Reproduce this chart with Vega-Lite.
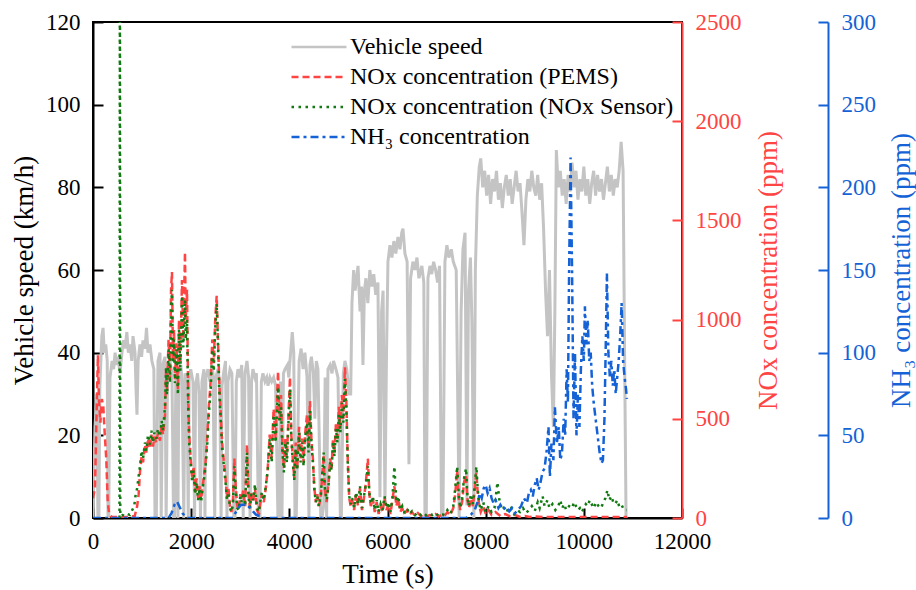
{
"$schema": "https://vega.github.io/schema/vega-lite/v6.json",
"width": 589,
"height": 496,
"autosize": {"type": "none"},
"padding": {"left": 93, "top": 22, "right": 234, "bottom": 72},
"config": {
  "font": "Liberation Serif",
  "view": {"stroke": "#000000", "strokeWidth": 2},
  "axis": {"grid": false, "ticks": true, "labelFont": "Liberation Serif", "titleFont": "Liberation Serif", "labelFontSize": 23, "titleFontSize": 27, "titleFontWeight": "normal", "labelFlush": false, "labelOverlap": false, "domainWidth": 2, "tickWidth": 2, "tickSize": -10, "labelPadding": 23, "format": "d"},
  "legend": {"orient": "none", "legendX": 214, "legendY": 13, "title": null, "padding": 0, "labelFont": "Liberation Serif", "labelFontSize": 24, "labelColor": "#000000", "labelOffset": 19, "rowPadding": 6, "symbolType": "M-5,0L5,0", "symbolSize": 121, "symbolStrokeWidth": 2.5, "labelLimit": 400}
},
"datasets": {
"speed": [
{"t":0,"v":0},{"t":40,"v":22},{"t":80,"v":30},{"t":100,"v":0},{"t":120,"v":0},{"t":140,"v":32},{"t":180,"v":44},{"t":205,"v":46},{"t":230,"v":40},{"t":260,"v":42},{"t":290,"v":38},{"t":306,"v":0},{"t":320,"v":0},{"t":346,"v":34},{"t":390,"v":38},{"t":420,"v":36},{"t":450,"v":40},{"t":480,"v":37},{"t":510,"v":39},{"t":550,"v":35},{"t":590,"v":40},{"t":620,"v":43},{"t":652,"v":41},{"t":690,"v":45},{"t":720,"v":40},{"t":754,"v":42},{"t":790,"v":38},{"t":815,"v":44},{"t":856,"v":40},{"t":880,"v":30},{"t":896,"v":25},{"t":920,"v":38},{"t":957,"v":42},{"t":990,"v":39},{"t":1019,"v":43},{"t":1059,"v":41},{"t":1090,"v":46},{"t":1120,"v":40},{"t":1161,"v":42},{"t":1200,"v":38},{"t":1240,"v":36},{"t":1263,"v":0},{"t":1290,"v":0},{"t":1324,"v":38},{"t":1365,"v":40},{"t":1390,"v":0},{"t":1420,"v":37},{"t":1467,"v":39},{"t":1490,"v":0},{"t":1520,"v":36},
{"t":1568,"v":38},{"t":1609,"v":35},{"t":1640,"v":0},{"t":1660,"v":0},{"t":1690,"v":36},{"t":1730,"v":0},{"t":1750,"v":34},{"t":1790,"v":37},{"t":1813,"v":33},{"t":1850,"v":0},{"t":1874,"v":35},{"t":1915,"v":33},{"t":1940,"v":0},{"t":1960,"v":34},{"t":1990,"v":36},{"t":2037,"v":33},{"t":2070,"v":0},{"t":2090,"v":32},{"t":2130,"v":35},{"t":2160,"v":30},{"t":2190,"v":0},{"t":2220,"v":33},{"t":2260,"v":36},{"t":2281,"v":0},{"t":2300,"v":34},{"t":2343,"v":36},{"t":2383,"v":33},{"t":2420,"v":37},{"t":2444,"v":35},{"t":2480,"v":0},{"t":2500,"v":34},{"t":2546,"v":36},{"t":2580,"v":33},{"t":2610,"v":0},{"t":2628,"v":32},{"t":2660,"v":35},{"t":2700,"v":38},{"t":2730,"v":0},{"t":2750,"v":33},{"t":2791,"v":36},
{"t":2830,"v":35},{"t":2870,"v":0},{"t":2893,"v":0},{"t":2920,"v":33},{"t":2954,"v":36},{"t":2994,"v":34},{"t":3030,"v":37},{"t":3060,"v":0},{"t":3096,"v":35},{"t":3137,"v":38},{"t":3170,"v":34},{"t":3200,"v":0},{"t":3230,"v":33},{"t":3259,"v":36},{"t":3300,"v":34},{"t":3330,"v":35},{"t":3370,"v":0},{"t":3402,"v":0},{"t":3430,"v":33},{"t":3463,"v":35},{"t":3504,"v":33},{"t":3540,"v":34},{"t":3565,"v":32},{"t":3605,"v":34},{"t":3640,"v":33},{"t":3680,"v":34},{"t":3720,"v":32},{"t":3768,"v":0},{"t":3790,"v":0},{"t":3820,"v":33},{"t":3850,"v":0},{"t":3880,"v":35},{"t":3911,"v":36},{"t":3960,"v":37},{"t":3990,"v":34},{"t":4013,"v":38},{"t":4060,"v":45},{"t":4090,"v":40},{"t":4115,"v":0},{"t":4140,"v":0},{"t":4176,"v":22},{"t":4200,"v":38},{"t":4240,"v":41},{"t":4280,"v":36},{"t":4318,"v":40},{"t":4360,"v":34},{"t":4400,"v":0},{"t":4420,"v":37},{"t":4450,"v":39},{"t":4490,"v":35},{"t":4520,"v":24},{"t":4550,"v":38},{"t":4583,"v":36},{"t":4640,"v":0},{"t":4665,"v":0},{"t":4700,"v":3},{"t":4730,"v":34},{"t":4760,"v":0},{"t":4787,"v":36},{"t":4828,"v":37},{"t":4870,"v":35},{"t":4900,"v":38},{"t":4950,"v":36},{"t":4991,"v":34},{"t":5040,"v":0},{"t":5060,"v":0},{"t":5100,"v":35},{"t":5133,"v":38},{"t":5170,"v":36},{"t":5220,"v":30},
{"t":5250,"v":30},{"t":5276,"v":52},{"t":5310,"v":60},{"t":5340,"v":55},{"t":5370,"v":58},{"t":5400,"v":61},{"t":5440,"v":50},{"t":5470,"v":56},{"t":5500,"v":37},{"t":5530,"v":55},{"t":5560,"v":58},{"t":5600,"v":52},{"t":5640,"v":60},{"t":5680,"v":56},{"t":5720,"v":59},{"t":5760,"v":54},{"t":5805,"v":57},{"t":5846,"v":5},{"t":5880,"v":50},{"t":5910,"v":55},{"t":5948,"v":3},{"t":5980,"v":40},{"t":6009,"v":62},{"t":6050,"v":66},{"t":6090,"v":63},{"t":6130,"v":67},{"t":6170,"v":64},{"t":6213,"v":68},{"t":6254,"v":65},{"t":6290,"v":69},{"t":6315,"v":70},{"t":6355,"v":64},{"t":6400,"v":62},{"t":6437,"v":13},{"t":6470,"v":58},{"t":6518,"v":62},{"t":6560,"v":60},{"t":6600,"v":63},{"t":6640,"v":58},{"t":6700,"v":61},{"t":6740,"v":57},{"t":6763,"v":0},{"t":6790,"v":0},{"t":6824,"v":58},{"t":6865,"v":61},{"t":6900,"v":59},{"t":6940,"v":62},{"t":6980,"v":60},{"t":7020,"v":57},{"t":7060,"v":61},{"t":7100,"v":0},{"t":7130,"v":0},{"t":7170,"v":62},{"t":7210,"v":66},{"t":7250,"v":63},{"t":7300,"v":65},{"t":7340,"v":62},{"t":7400,"v":60},{"t":7460,"v":0},{"t":7500,"v":50},{"t":7537,"v":65},{"t":7580,"v":69},{"t":7618,"v":3},{"t":7650,"v":55},{"t":7690,"v":63},{"t":7720,"v":47},{"t":7760,"v":0},{"t":7790,"v":60},{"t":7830,"v":78},{"t":7870,"v":85},
{"t":7900,"v":87},{"t":7940,"v":80},{"t":7980,"v":84},{"t":8020,"v":78},{"t":8060,"v":83},{"t":8100,"v":76},{"t":8140,"v":82},{"t":8180,"v":79},{"t":8220,"v":84},{"t":8260,"v":77},{"t":8300,"v":81},{"t":8340,"v":75},{"t":8380,"v":80},{"t":8420,"v":83},{"t":8460,"v":78},{"t":8500,"v":82},{"t":8540,"v":76},{"t":8580,"v":80},{"t":8620,"v":84},{"t":8660,"v":79},{"t":8700,"v":81},{"t":8740,"v":74},{"t":8780,"v":66},{"t":8820,"v":77},{"t":8860,"v":82},{"t":8900,"v":79},{"t":8940,"v":84},{"t":8980,"v":80},{"t":9020,"v":78},{"t":9060,"v":83},{"t":9100,"v":77},{"t":9140,"v":81},{"t":9180,"v":70},{"t":9220,"v":55},{"t":9260,"v":44},{"t":9300,"v":60},{"t":9340,"v":35},{"t":9380,"v":22},{"t":9410,"v":50},{"t":9440,"v":89},{"t":9480,"v":80},{"t":9520,"v":84},{"t":9560,"v":78},{"t":9600,"v":82},{"t":9640,"v":76},{"t":9680,"v":83},{"t":9720,"v":79},{"t":9760,"v":86},{"t":9800,"v":80},{"t":9840,"v":84},{"t":9880,"v":77},{"t":9920,"v":82},{"t":9960,"v":79},{"t":10000,"v":85},{"t":10040,"v":78},{"t":10080,"v":82},{"t":10120,"v":76},{"t":10160,"v":81},{"t":10200,"v":84},{"t":10240,"v":78},{"t":10280,"v":83},{"t":10320,"v":79},{"t":10360,"v":82},{"t":10400,"v":77},{"t":10440,"v":81},{"t":10480,"v":85},{"t":10520,"v":79},{"t":10560,"v":83},{"t":10600,"v":78},{"t":10640,"v":82},{"t":10680,"v":80},{"t":10720,"v":84},{"t":10760,"v":91},{"t":10800,"v":84},{"t":10830,"v":40},{"t":10860,"v":0},{"t":10880,"v":0}
],
"pems": [
{"t":0,"v":100},{"t":40,"v":150},{"t":70,"v":500},{"t":100,"v":820},{"t":120,"v":600},{"t":150,"v":480},{"t":180,"v":600},{"t":210,"v":560},{"t":240,"v":420},{"t":270,"v":300},{"t":300,"v":80},{"t":330,"v":20},{"t":360,"v":10},{"t":400,"v":5},{"t":500,"v":5},{"t":700,"v":5},{"t":850,"v":10},
{"t":900,"v":60},{"t":930,"v":120},{"t":957,"v":230},{"t":990,"v":310},{"t":1019,"v":280},{"t":1059,"v":370},{"t":1090,"v":330},{"t":1120,"v":400},{"t":1161,"v":350},{"t":1190,"v":420},{"t":1222,"v":360},{"t":1250,"v":410},{"t":1290,"v":380},{"t":1324,"v":430},{"t":1365,"v":390},{"t":1400,"v":470},{"t":1426,"v":420},{"t":1467,"v":520},{"t":1490,"v":760},{"t":1507,"v":640},{"t":1540,"v":900},{"t":1568,"v":700},{"t":1590,"v":1150},{"t":1609,"v":1240},{"t":1630,"v":800},{"t":1650,"v":950},{"t":1670,"v":700},{"t":1700,"v":880},{"t":1730,"v":650},{"t":1752,"v":1000},{"t":1780,"v":780},{"t":1813,"v":1200},{"t":1840,"v":900},{"t":1874,"v":1340},{"t":1890,"v":1000},{"t":1915,"v":1150},{"t":1940,"v":600},{"t":1960,"v":420},{"t":1990,"v":300},{"t":2020,"v":200},{"t":2050,"v":260},{"t":2080,"v":130},{"t":2110,"v":200},{"t":2140,"v":100},{"t":2170,"v":160},{"t":2200,"v":90},{"t":2240,"v":170},{"t":2270,"v":230},{"t":2300,"v":300},{"t":2330,"v":420},{"t":2360,"v":560},{"t":2400,"v":700},{"t":2430,"v":900},{"t":2460,"v":780},{"t":2490,"v":1000},{"t":2520,"v":1120},{"t":2546,"v":900},{"t":2570,"v":700},{"t":2600,"v":540},{"t":2630,"v":380},{"t":2660,"v":300},{"t":2700,"v":200},{"t":2730,"v":100},{"t":2760,"v":150},{"t":2790,"v":60},{"t":2820,"v":30},{"t":2850,"v":80},{"t":2880,"v":300},{"t":2910,"v":150},{"t":2940,"v":60},{"t":2970,"v":40},{"t":3000,"v":120},{"t":3030,"v":90},{"t":3060,"v":140},{"t":3100,"v":60},{"t":3137,"v":370},{"t":3170,"v":110},{"t":3200,"v":50},{"t":3220,"v":130},{"t":3260,"v":80},{"t":3300,"v":150},{"t":3340,"v":40},{"t":3380,"v":20},
{"t":3400,"v":60},{"t":3440,"v":120},{"t":3480,"v":80},{"t":3520,"v":150},{"t":3560,"v":250},{"t":3600,"v":420},{"t":3640,"v":300},{"t":3680,"v":550},{"t":3720,"v":400},{"t":3770,"v":740},{"t":3800,"v":500},{"t":3830,"v":620},{"t":3860,"v":350},{"t":3890,"v":250},{"t":3920,"v":400},{"t":3950,"v":300},{"t":3980,"v":500},{"t":4013,"v":710},{"t":4040,"v":420},{"t":4070,"v":300},{"t":4100,"v":200},{"t":4130,"v":380},{"t":4160,"v":250},{"t":4200,"v":460},{"t":4230,"v":300},{"t":4260,"v":400},{"t":4290,"v":280},{"t":4320,"v":420},{"t":4360,"v":520},{"t":4390,"v":350},{"t":4420,"v":590},{"t":4450,"v":400},{"t":4480,"v":300},{"t":4510,"v":150},{"t":4540,"v":80},{"t":4570,"v":120},{"t":4600,"v":60},{"t":4640,"v":100},{"t":4680,"v":250},{"t":4700,"v":320},{"t":4720,"v":150},{"t":4760,"v":80},{"t":4800,"v":180},{"t":4830,"v":300},{"t":4860,"v":250},{"t":4890,"v":400},{"t":4920,"v":330},{"t":4950,"v":480},{"t":4980,"v":400},{"t":5010,"v":560},{"t":5040,"v":450},{"t":5070,"v":620},{"t":5100,"v":500},{"t":5133,"v":760},{"t":5160,"v":600},{"t":5190,"v":300},{"t":5220,"v":100},{"t":5250,"v":60},{"t":5280,"v":90},
{"t":5320,"v":40},{"t":5360,"v":120},{"t":5400,"v":60},{"t":5440,"v":150},{"t":5480,"v":40},{"t":5520,"v":100},{"t":5560,"v":180},{"t":5600,"v":300},{"t":5630,"v":120},{"t":5660,"v":60},{"t":5700,"v":100},{"t":5740,"v":30},{"t":5780,"v":80},{"t":5820,"v":20},{"t":5860,"v":60},{"t":5900,"v":30},{"t":5940,"v":100},{"t":5980,"v":40},{"t":6020,"v":70},{"t":6060,"v":20},{"t":6100,"v":90},{"t":6140,"v":160},{"t":6180,"v":60},{"t":6220,"v":100},{"t":6260,"v":30},{"t":6300,"v":50},{"t":6340,"v":20},{"t":6400,"v":40},{"t":6440,"v":15},{"t":6500,"v":30},{"t":6560,"v":10},{"t":6620,"v":25},{"t":6680,"v":10},{"t":6740,"v":20},{"t":6800,"v":8},{"t":6860,"v":15},{"t":6920,"v":10},{"t":6980,"v":20},{"t":7040,"v":8},{"t":7100,"v":15},{"t":7160,"v":10},{"t":7220,"v":30},{"t":7280,"v":15},{"t":7340,"v":50},{"t":7380,"v":120},{"t":7420,"v":240},{"t":7450,"v":100},{"t":7480,"v":40},{"t":7520,"v":80},{"t":7560,"v":180},{"t":7600,"v":220},{"t":7630,"v":90},{"t":7660,"v":50},{"t":7700,"v":100},{"t":7740,"v":60},{"t":7780,"v":150},{"t":7810,"v":230},{"t":7840,"v":120},{"t":7870,"v":60},{"t":7900,"v":30},{"t":7950,"v":60},{"t":8000,"v":20},{"t":8060,"v":40},{"t":8120,"v":15},{"t":8200,"v":30},{"t":8300,"v":10},{"t":8400,"v":20},{"t":8500,"v":8},{"t":8600,"v":15},{"t":8700,"v":5},{"t":8800,"v":10},{"t":8900,"v":5},{"t":9000,"v":8},{"t":9200,"v":5},{"t":9400,"v":5},{"t":9600,"v":5},{"t":9800,"v":5},{"t":10000,"v":5},{"t":10200,"v":5},{"t":10400,"v":5},{"t":10600,"v":5},{"t":10880,"v":5}
],
"sensor": [
{"t":540,"v":0},{"t":548,"v":3000},{"t":556,"v":10},{"t":600,"v":15},{"t":650,"v":10},{"t":700,"v":20},{"t":750,"v":15},{"t":800,"v":40},{"t":840,"v":60},{"t":870,"v":120},{"t":900,"v":150},{"t":930,"v":210},{"t":957,"v":260},{"t":990,"v":340},{"t":1019,"v":300},{"t":1059,"v":380},{"t":1090,"v":340},{"t":1120,"v":420},{"t":1161,"v":370},{"t":1190,"v":440},{"t":1222,"v":380},{"t":1250,"v":430},{"t":1290,"v":400},{"t":1324,"v":450},{"t":1365,"v":410},{"t":1400,"v":490},{"t":1426,"v":440},{"t":1467,"v":560},{"t":1490,"v":760},{"t":1507,"v":620},{"t":1540,"v":850},{"t":1568,"v":680},{"t":1590,"v":1050},{"t":1609,"v":1150},{"t":1630,"v":780},{"t":1650,"v":900},{"t":1670,"v":680},{"t":1700,"v":850},{"t":1730,"v":620},{"t":1752,"v":950},{"t":1780,"v":740},{"t":1813,"v":1120},{"t":1840,"v":860},{"t":1874,"v":1100},{"t":1890,"v":900},{"t":1915,"v":1000},{"t":1940,"v":550},{"t":1960,"v":380},{"t":1990,"v":280},{"t":2020,"v":180},{"t":2050,"v":240},{"t":2080,"v":120},{"t":2110,"v":180},{"t":2140,"v":90},{"t":2170,"v":150},{"t":2200,"v":80},{"t":2240,"v":160},{"t":2270,"v":210},{"t":2300,"v":280},{"t":2330,"v":380},{"t":2360,"v":520},{"t":2400,"v":660},{"t":2430,"v":850},{"t":2460,"v":740},{"t":2490,"v":950},{"t":2520,"v":1080},{"t":2546,"v":880},{"t":2570,"v":660},{"t":2600,"v":500},{"t":2630,"v":350},{"t":2660,"v":280},{"t":2700,"v":180},{"t":2730,"v":90},{"t":2760,"v":130},{"t":2790,"v":50},{"t":2820,"v":30},{"t":2850,"v":70},{"t":2880,"v":260},{"t":2910,"v":130},{"t":2940,"v":50},{"t":2970,"v":40},{"t":3000,"v":110},{"t":3030,"v":80},{"t":3060,"v":130},{"t":3100,"v":60},{"t":3137,"v":330},{"t":3170,"v":100},{"t":3200,"v":50},{"t":3220,"v":120},{"t":3260,"v":90},{"t":3300,"v":170},{"t":3340,"v":50},{"t":3380,"v":30},
{"t":3400,"v":70},{"t":3440,"v":130},{"t":3480,"v":90},{"t":3520,"v":160},{"t":3560,"v":240},{"t":3600,"v":400},{"t":3640,"v":280},{"t":3680,"v":520},{"t":3720,"v":380},{"t":3770,"v":660},{"t":3800,"v":480},{"t":3830,"v":560},{"t":3860,"v":330},{"t":3890,"v":230},{"t":3920,"v":380},{"t":3950,"v":280},{"t":3980,"v":470},{"t":4013,"v":650},{"t":4040,"v":400},{"t":4070,"v":280},{"t":4100,"v":190},{"t":4130,"v":350},{"t":4160,"v":240},{"t":4200,"v":430},{"t":4230,"v":280},{"t":4260,"v":380},{"t":4290,"v":260},{"t":4320,"v":400},{"t":4360,"v":480},{"t":4390,"v":330},{"t":4420,"v":540},{"t":4450,"v":380},{"t":4480,"v":280},{"t":4510,"v":140},{"t":4540,"v":80},{"t":4570,"v":110},{"t":4600,"v":60},{"t":4640,"v":110},{"t":4680,"v":260},{"t":4700,"v":330},{"t":4720,"v":160},{"t":4760,"v":90},{"t":4800,"v":170},{"t":4830,"v":280},{"t":4860,"v":240},{"t":4890,"v":380},{"t":4920,"v":310},{"t":4950,"v":450},{"t":4980,"v":380},{"t":5010,"v":520},{"t":5040,"v":430},{"t":5070,"v":580},{"t":5100,"v":480},{"t":5133,"v":700},{"t":5160,"v":560},{"t":5190,"v":280},{"t":5220,"v":110},{"t":5250,"v":70},{"t":5280,"v":100},
{"t":5320,"v":50},{"t":5360,"v":130},{"t":5400,"v":70},{"t":5440,"v":160},{"t":5480,"v":50},{"t":5520,"v":110},{"t":5560,"v":170},{"t":5600,"v":260},{"t":5630,"v":130},{"t":5660,"v":70},{"t":5700,"v":110},{"t":5740,"v":40},{"t":5780,"v":90},{"t":5820,"v":30},{"t":5860,"v":70},{"t":5900,"v":40},{"t":5940,"v":110},{"t":5980,"v":50},{"t":6020,"v":80},{"t":6060,"v":30},{"t":6100,"v":100},{"t":6140,"v":260},{"t":6180,"v":80},{"t":6220,"v":110},{"t":6260,"v":40},{"t":6300,"v":60},{"t":6340,"v":30},{"t":6400,"v":50},{"t":6440,"v":20},{"t":6500,"v":35},{"t":6560,"v":15},{"t":6620,"v":30},{"t":6680,"v":15},{"t":6740,"v":25},{"t":6800,"v":10},{"t":6860,"v":20},{"t":6920,"v":15},{"t":6980,"v":25},{"t":7040,"v":10},{"t":7100,"v":20},{"t":7160,"v":15},{"t":7220,"v":40},{"t":7280,"v":20},{"t":7340,"v":60},{"t":7380,"v":150},{"t":7420,"v":260},{"t":7450,"v":120},{"t":7480,"v":50},{"t":7520,"v":100},{"t":7560,"v":200},{"t":7600,"v":250},{"t":7630,"v":100},{"t":7660,"v":60},{"t":7700,"v":120},{"t":7740,"v":70},{"t":7780,"v":170},{"t":7810,"v":260},{"t":7840,"v":140},{"t":7870,"v":70},{"t":7900,"v":40},{"t":7950,"v":80},{"t":8000,"v":30},{"t":8060,"v":60},{"t":8120,"v":30},{"t":8180,"v":50},{"t":8240,"v":180},{"t":8280,"v":90},{"t":8330,"v":40},{"t":8400,"v":60},{"t":8460,"v":30},{"t":8520,"v":50},{"t":8580,"v":20},{"t":8640,"v":40},{"t":8700,"v":30},{"t":8760,"v":50},{"t":8820,"v":25},{"t":8880,"v":40},{"t":8940,"v":60},{"t":9000,"v":35},{"t":9060,"v":80},{"t":9100,"v":50},{"t":9160,"v":110},{"t":9200,"v":60},{"t":9260,"v":90},{"t":9300,"v":50},{"t":9360,"v":70},{"t":9420,"v":40},{"t":9480,"v":60},{"t":9520,"v":90},{"t":9560,"v":50},{"t":9600,"v":70},{"t":9640,"v":40},{"t":9700,"v":60},{"t":9760,"v":50},{"t":9800,"v":80},{"t":9840,"v":60},{"t":9880,"v":40},{"t":9920,"v":50},{"t":9960,"v":30},{"t":10000,"v":50},{"t":10040,"v":70},{"t":10080,"v":60},{"t":10120,"v":90},{"t":10160,"v":70},{"t":10200,"v":50},{"t":10250,"v":80},{"t":10300,"v":60},{"t":10350,"v":50},{"t":10400,"v":80},{"t":10440,"v":100},{"t":10480,"v":140},{"t":10520,"v":90},{"t":10560,"v":110},{"t":10600,"v":80},{"t":10640,"v":70},{"t":10680,"v":90},{"t":10720,"v":60},{"t":10760,"v":70},{"t":10800,"v":50},{"t":10850,"v":40},{"t":10880,"v":40}
],
"nh3": [
{"t":0,"v":0},{"t":1540,"v":0},{"t":1600,"v":3},{"t":1660,"v":8},{"t":1710,"v":10},{"t":1760,"v":7},{"t":1820,"v":3},{"t":1880,"v":1},{"t":1920,"v":0},{"t":2850,"v":0},{"t":2900,"v":3},{"t":2960,"v":6},{"t":3020,"v":8},{"t":3080,"v":8},{"t":3140,"v":8},{"t":3200,"v":6},{"t":3260,"v":4},{"t":3320,"v":2},{"t":3400,"v":1},{"t":3460,"v":0},{"t":7600,"v":0},{"t":7700,"v":2},{"t":7780,"v":5},{"t":7840,"v":10},{"t":7880,"v":15},{"t":7920,"v":12},{"t":7960,"v":18},{"t":8000,"v":20},{"t":8040,"v":15},{"t":8080,"v":18},{"t":8120,"v":12},{"t":8160,"v":9},{"t":8200,"v":11},{"t":8260,"v":6},{"t":8300,"v":8},{"t":8360,"v":5},{"t":8420,"v":7},{"t":8480,"v":4},{"t":8540,"v":6},{"t":8600,"v":3},{"t":8660,"v":5},{"t":8720,"v":7},{"t":8780,"v":12},{"t":8840,"v":9},{"t":8880,"v":15},{"t":8920,"v":17},{"t":8960,"v":13},{"t":9000,"v":20},{"t":9040,"v":24},{"t":9080,"v":17},{"t":9120,"v":22},{"t":9160,"v":28},
{"t":9200,"v":30},{"t":9240,"v":40},{"t":9280,"v":55},{"t":9309,"v":25},{"t":9340,"v":45},{"t":9380,"v":35},{"t":9411,"v":67},{"t":9450,"v":45},{"t":9490,"v":55},{"t":9520,"v":35},{"t":9554,"v":39},{"t":9590,"v":60},{"t":9620,"v":50},{"t":9650,"v":90},{"t":9676,"v":70},{"t":9700,"v":150},{"t":9730,"v":218},{"t":9760,"v":150},{"t":9790,"v":60},{"t":9820,"v":100},{"t":9850,"v":50},{"t":9880,"v":75},{"t":9910,"v":55},{"t":9940,"v":90},{"t":9970,"v":110},{"t":10000,"v":95},{"t":10022,"v":128},{"t":10050,"v":105},{"t":10080,"v":120},{"t":10110,"v":95},{"t":10140,"v":100},{"t":10170,"v":80},{"t":10200,"v":70},{"t":10240,"v":60},{"t":10280,"v":50},{"t":10320,"v":40},{"t":10360,"v":33},{"t":10389,"v":35},{"t":10420,"v":60},{"t":10450,"v":110},{"t":10470,"v":148},{"t":10500,"v":100},{"t":10530,"v":85},{"t":10560,"v":95},{"t":10590,"v":80},{"t":10620,"v":90},{"t":10650,"v":75},{"t":10680,"v":85},{"t":10710,"v":95},{"t":10740,"v":110},{"t":10770,"v":130},{"t":10800,"v":95},{"t":10830,"v":85},{"t":10860,"v":78},{"t":10878,"v":72}
]
},
"encoding": {
  "x": {"field": "t", "type": "quantitative", "scale": {"domain": [0, 12000], "nice": false},
    "axis": {"title": "Time (s)", "values": [0,2000,4000,6000,8000,10000,12000], "labelFont": "Liberation Serif", "titleFont": "Liberation Serif", "labelFontSize": 23, "labelColor": "#000000", "domainColor": "#000000", "tickColor": "#000000", "titleColor": "#000000", "tickSize": -10, "tickWidth": 2, "labelPadding": 22, "titleX": 294.5, "titleY": 64, "titleAlign": "center", "titleBaseline": "alphabetic"}}
},
"layer": [
  {
    "data": {"name": "speed"},
    "mark": {"type": "line", "color": "#c4c4c4", "strokeWidth": 3, "clip": true},
    "encoding": {
      "y": {"field": "v", "type": "quantitative", "scale": {"domain": [0, 120], "nice": false},
        "axis": {"orient": "left", "title": "Vehicle speed (km/h)", "values": [0,20,40,60,80,100,120], "labelFont": "Liberation Serif", "titleFont": "Liberation Serif", "labelFontSize": 23, "tickSize": -10, "tickWidth": 2, "labelPadding": 23, "labelColor": "#000000", "domainColor": "#000000", "tickColor": "#000000", "titleColor": "#000000", "titleX": -69, "titleY": 248, "titleAngle": 270, "titleAlign": "center", "titleBaseline": "middle"}},
      "color": {"datum": "Vehicle speed", "type": "nominal", "scale": {"domain": ["Vehicle speed", "NOx concentration (PEMS)", "NOx concentration (NOx Sensor)", "NH₃ concentration"], "range": ["#c4c4c4", "#ff4444", "#117a11", "#1462d6"]}},
      "strokeDash": {"datum": "Vehicle speed", "type": "nominal", "scale": {"domain": ["Vehicle speed", "NOx concentration (PEMS)", "NOx concentration (NOx Sensor)", "NH₃ concentration"], "range": [[1,0],[7,4],[2.5,4.5],[8,4,3,4]]}}
    }
  },
  {
    "layer": [
      {
        "data": {"name": "pems"},
        "mark": {"type": "line", "strokeWidth": 2.5, "clip": true},
        "encoding": {
          "y": {"field": "v", "type": "quantitative", "scale": {"domain": [0, 2500], "nice": false},
            "axis": {"orient": "right", "title": "NOx concentration (ppm)", "values": [0,500,1000,1500,2000,2500], "labelFont": "Liberation Serif", "titleFont": "Liberation Serif", "labelFontSize": 23, "tickSize": -10, "tickWidth": 2, "labelPadding": 23, "labelColor": "#ff4444", "domainColor": "#ff4444", "tickColor": "#ff4444", "titleColor": "#ff4444", "titleX": 86, "titleY": 248, "titleAngle": 270, "titleAlign": "center", "titleBaseline": "middle"}},
          "color": {"datum": "NOx concentration (PEMS)", "type": "nominal"},
          "strokeDash": {"datum": "NOx concentration (PEMS)", "type": "nominal"}
        }
      },
      {
        "data": {"name": "sensor"},
        "mark": {"type": "line", "strokeWidth": 2.5, "clip": true},
        "encoding": {
          "y": {"field": "v", "type": "quantitative", "scale": {"domain": [0, 2500], "nice": false}},
          "color": {"datum": "NOx concentration (NOx Sensor)", "type": "nominal"},
          "strokeDash": {"datum": "NOx concentration (NOx Sensor)", "type": "nominal"}
        }
      }
    ]
  },
  {
    "data": {"name": "nh3"},
    "mark": {"type": "line", "strokeWidth": 2.5, "clip": true},
    "encoding": {
      "y": {"field": "v", "type": "quantitative", "scale": {"domain": [0, 300], "nice": false},
        "axis": {"orient": "right", "offset": 146, "title": "NH₃ concentration (ppm)", "values": [0,50,100,150,200,250,300], "labelFont": "Liberation Serif", "titleFont": "Liberation Serif", "labelFontSize": 23, "tickSize": -10, "tickWidth": 2, "labelPadding": 23, "labelColor": "#1462d6", "domainColor": "#1462d6", "tickColor": "#1462d6", "titleColor": "#1462d6", "titleX": 73, "titleY": 248, "titleAngle": 270, "titleAlign": "center", "titleBaseline": "middle"}},
      "color": {"datum": "NH₃ concentration", "type": "nominal"},
      "strokeDash": {"datum": "NH₃ concentration", "type": "nominal"}
    }
  }
],
"resolve": {"scale": {"y": "independent"}}
}
